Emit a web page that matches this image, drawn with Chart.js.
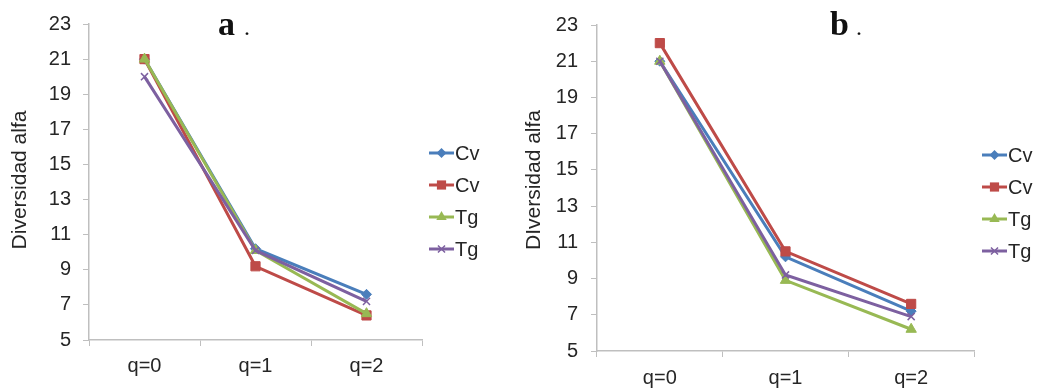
<!DOCTYPE html>
<html>
<head>
<meta charset="utf-8">
<script src="https://cdn.jsdelivr.net/npm/chart.js@4/dist/chart.umd.min.js"></script>
<style>
  html, body { margin: 0; padding: 0; background: #fff; }
  #wrap { position: relative; width: 1038px; height: 389px; }
  canvas { position: absolute; top: 0; }
</style>
</head>
<body>
<div id="wrap">
  <canvas id="chartA" width="520" height="389" style="left:0"></canvas>
  <canvas id="chartB" width="518" height="389" style="left:520px"></canvas>
</div>
<script>
// datos
const categories = ["q=0", "q=1", "q=2"];
const seriesNames = ["Cv", "Cv", "Tg", "Tg"];

const aCv1 = [21, 10.2, 7.6];
const aCv2 = [21, 9.2, 6.4];
const aTg1 = [21, 10.1, 6.5];
const aTg2 = [20, 10.1, 7.2];

const bCv1 = [21, 10.2, 7.2];
const bCv2 = [22, 10.5, 7.6];
const bTg1 = [21, 8.9, 6.2];
const bTg2 = [21, 9.2, 6.9];

const yMin = 5, yMax = 23, yStep = 2;

const colors = ["#4a7ebb", "#be4b48", "#98b954", "#7d60a0"];
const markers = ["rectRot", "rect", "triangle", "crossRot"];
const radii = [5, 6.5, 6, 5];

const TEXT = "#262626";
const AXIS = "#bfbfbf";

function drawMarker(ctx, style, x, y, r, color) {
  ctx.save();
  ctx.fillStyle = color;
  ctx.strokeStyle = color;
  ctx.lineWidth = 1.5;
  ctx.beginPath();
  if (style === "rectRot") {
    ctx.moveTo(x, y - r); ctx.lineTo(x + r, y); ctx.lineTo(x, y + r); ctx.lineTo(x - r, y);
    ctx.closePath(); ctx.fill();
  } else if (style === "rect") {
    const s = r * Math.SQRT1_2;
    ctx.rect(x - s, y - s, 2 * s, 2 * s); ctx.fill();
  } else if (style === "triangle") {
    ctx.moveTo(x, y - r);
    ctx.lineTo(x + r * 0.866, y + r * 0.5);
    ctx.lineTo(x - r * 0.866, y + r * 0.5);
    ctx.closePath(); ctx.fill();
  } else {
    const s = r * Math.SQRT1_2;
    ctx.moveTo(x - s, y - s); ctx.lineTo(x + s, y + s);
    ctx.moveTo(x + s, y - s); ctx.lineTo(x - s, y + s);
    ctx.stroke();
  }
  ctx.restore();
}

// título, etiqueta del eje y y leyenda al estilo Excel
const extrasPlugin = {
  id: "extras",
  afterDraw(chart, args, opts) {
    const ctx = chart.ctx;
    ctx.save();
    ctx.fillStyle = "#111";
    ctx.textBaseline = "alphabetic";
    ctx.textAlign = "left";
    ctx.font = "bold 34px 'Liberation Serif'";
    ctx.fillText(opts.letter, opts.letterX, 35);
    ctx.font = "24px 'Liberation Serif'";
    ctx.fillText(".", opts.dotX, 35);

    ctx.fillStyle = TEXT;
    ctx.font = "21px 'Liberation Sans'";
    ctx.translate(opts.ylabelX, 180);
    ctx.rotate(-Math.PI / 2);
    ctx.textAlign = "center";
    ctx.textBaseline = "middle";
    ctx.fillText(opts.ylabel, 0, 0);
    ctx.restore();

    ctx.save();
    ctx.font = "20px 'Liberation Sans'";
    ctx.textBaseline = "middle";
    chart.data.datasets.forEach((ds, i) => {
      const y = opts.legendY + i * 32;
      const x = opts.legendX;
      ctx.strokeStyle = ds.borderColor;
      ctx.lineWidth = 3;
      ctx.beginPath();
      ctx.moveTo(x, y);
      ctx.lineTo(x + 25, y);
      ctx.stroke();
      drawMarker(ctx, markers[i], x + 12.5, y, radii[i], ds.borderColor);
      ctx.fillStyle = TEXT;
      ctx.fillText(ds.label, x + 26, y + 1);
    });
    ctx.restore();
  }
};

function makeChart(id, series, cfg) {
  const datasets = series.map((values, i) => ({
    label: seriesNames[i],
    data: values,
    borderColor: colors[i],
    backgroundColor: colors[i],
    pointBackgroundColor: colors[i],
    pointBorderColor: colors[i],
    pointStyle: markers[i],
    pointRadius: radii[i],
    pointBorderWidth: i === 3 ? 1.5 : 1,
    borderWidth: 3,
    tension: 0,
    order: 4 - i
  }));

  return new Chart(document.getElementById(id), {
    type: "line",
    data: { labels: categories, datasets: datasets },
    options: {
      responsive: false,
      animation: false,
      devicePixelRatio: 1,
      layout: { padding: { left: 0, right: cfg.padRight, top: cfg.padTop, bottom: 0 } },
      plugins: {
        legend: { display: false },
        tooltip: { enabled: false },
        extras: cfg.extras
      },
      scales: {
        x: {
          offset: true,
          afterFit: s => { s.height = cfg.xHeight; },
          grid: { offset: true, drawOnChartArea: false, drawTicks: true, tickLength: 6, color: AXIS, lineWidth: 1 },
          border: { color: AXIS, width: 1.5 },
          ticks: { color: TEXT, font: { family: "Liberation Sans", size: 20 }, padding: cfg.xPad, maxRotation: 0 }
        },
        y: {
          min: yMin,
          max: yMax,
          afterFit: s => { s.width = cfg.yWidth; },
          grid: { drawOnChartArea: false, drawTicks: true, tickLength: 6, color: AXIS, lineWidth: 1 },
          border: { color: AXIS, width: 1.5 },
          ticks: { stepSize: yStep, color: TEXT, font: { family: "Liberation Sans", size: 20 }, padding: cfg.yPad }
        }
      }
    },
    plugins: [extrasPlugin]
  });
}

makeChart("chartA", [aCv1, aCv2, aTg1, aTg2], {
  padRight: 98, padTop: 21, xHeight: 49, yWidth: 89, xPad: 8, yPad: 12,
  extras: { letter: "a", letterX: 218, dotX: 244, ylabel: "Diversidad alfa", ylabelX: 20, legendX: 429, legendY: 153 }
});

makeChart("chartB", [bCv1, bCv2, bTg1, bTg2], {
  padRight: 64, padTop: 18, xHeight: 38, yWidth: 77, xPad: 9, yPad: 13,
  extras: { letter: "b", letterX: 310, dotX: 336, ylabel: "DIversidad alfa", ylabelX: 14, legendX: 462, legendY: 155 }
});
</script>
</body>
</html>
